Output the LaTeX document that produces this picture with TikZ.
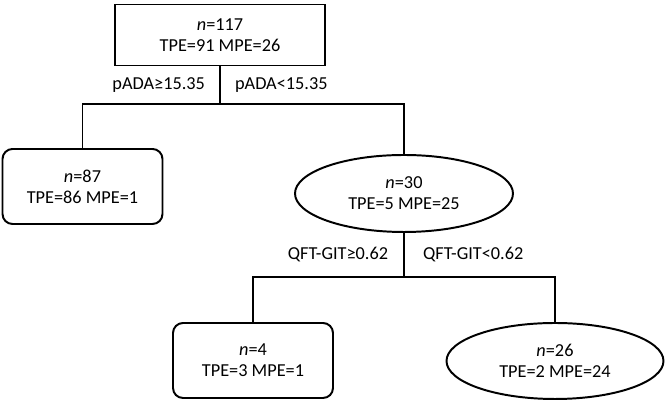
\documentclass[tikz,border=0pt]{standalone}
\usepackage{fontspec}
\setmainfont{Carlito}
\usetikzlibrary{positioning,calc,shapes.geometric}

\begin{document}
\begin{tikzpicture}[line width=1.4pt,
    leaf/.style={draw, inner sep=0pt, rounded corners=0.25cm, align=center,
      minimum width=4cm, minimum height=1.875cm},
    split/.style={draw, ellipse, inner sep=0pt, align=center,
      minimum width=5.45cm, minimum height=1.925cm}]
      \fontsize{13}{15}\selectfont
      \useasboundingbox (0,0) rectangle (16.7,10.025);

      \node[draw, inner sep=0pt, align=center, minimum width=5.25cm,
      minimum height=1.525cm] (root) at (5.5,9.15) {\textit{n}=117\\TPE=91
        MPE=26}; \node[leaf] (n87) at (2.0625,5.3625) {\textit{n}=87\\TPE=86
        MPE=1}; \node[split] (n30) at (10.1,5.1875) {\textit{n}=30\\TPE=5
        MPE=25}; \node[leaf] (n4) at (6.325,1.0125) {\textit{n}=4\\TPE=3
        MPE=1}; \node[split, minimum width=5.425cm, minimum height=1.9cm]
      (n26) at (13.875,1.0) {\textit{n}=26\\TPE=2 MPE=24};

      \coordinate (fork1) at ($(root.south)+(0,-0.95)$);
      \draw (root.south) -- (fork1); \draw (n87.north) |- (fork1) -|
      (n30.north); \coordinate (stem1) at ($(root.south)!0.5!(fork1)$);
      \node[anchor=east] (ge1) at ([xshift=-0.2cm]stem1) {pADA≥15.35};
      \node[anchor=west] (lt1) at ([xshift=0.2cm]stem1) {pADA<15.35};

      \coordinate (fork2) at ($(n30.south)+(0,-1.1)$);
      \draw (n30.south) -- (fork2); \draw (n4.north) |- (fork2) -|
      (n26.north); \coordinate (stem2) at ($(n30.south)!0.5!(fork2)$);
      \node[anchor=east] (ge2) at ([xshift=-0.22cm]stem2) {QFT-GIT≥0.62};
      \node[anchor=west] (lt2) at ([xshift=0.3cm]stem2) {QFT-GIT<0.62};
    \end{tikzpicture}
\end{document}
